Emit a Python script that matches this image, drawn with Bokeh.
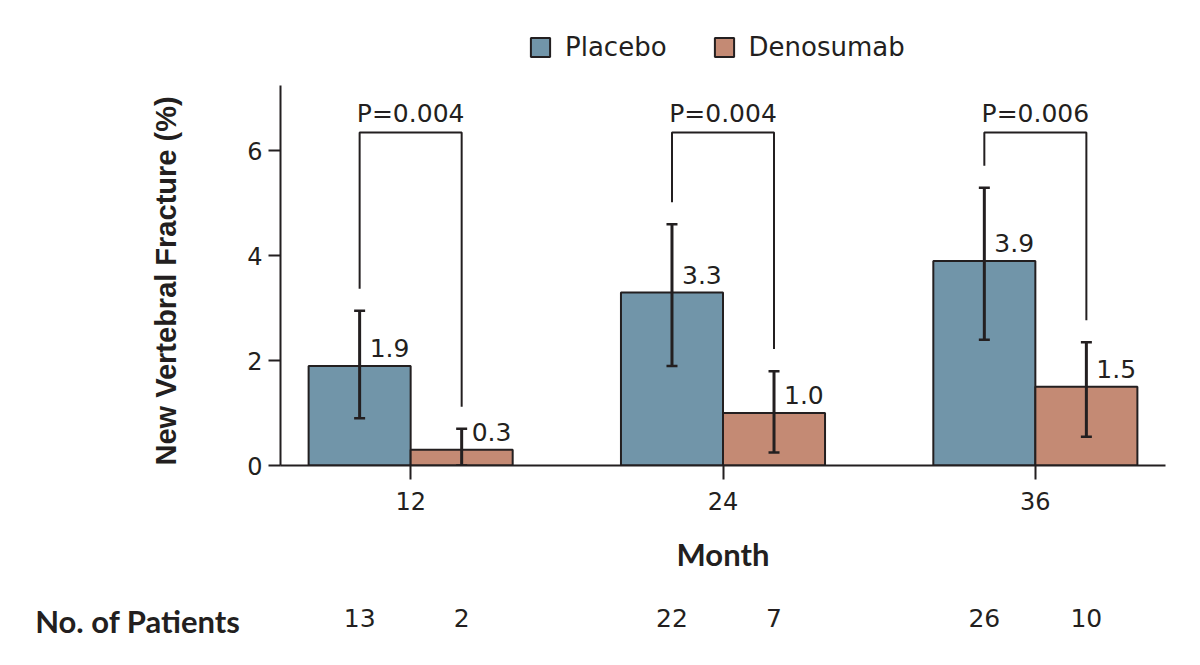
from bokeh.plotting import figure
from bokeh.layouts import column
from bokeh.models import Range1d, Legend, LegendItem, FixedTicker, Title
from bokeh.core.properties import value
from bokeh.embed import file_html
from bokeh.resources import INLINE

# ---- data -------------------------------------------------------------
months = [12, 24, 36]
placebo = [1.9, 3.3, 3.9]
denosumab = [0.3, 1.0, 1.5]
placebo_lo = [0.9, 1.9, 2.4]
placebo_hi = [2.95, 4.6, 5.3]
denosumab_lo = [0.0, 0.25, 0.55]
denosumab_hi = [0.7, 1.8, 2.35]
p_values = ["P=0.004", "P=0.004", "P=0.006"]
patients_placebo = [13, 22, 26]
patients_denosumab = [2, 7, 10]
y_ticks = [0, 2, 4, 6]

# ---- style ------------------------------------------------------------
INK = "#231f20"
BLUE = "#7195a9"
TAN = "#c48a74"
REG = "DejaVu Sans"
BOLD = "Lato"
BAR_W = 3.92          # bar width in months
BRACKET_Y = 6.35      # height of the significance brackets
LEG_GAP = 0.42        # gap between error-bar top and bracket leg
Y_AXIS_TOP = 7.25     # where the value axis stops
Y_VIEW_TOP = 8.87     # headroom above the axis holds the legend

W = 1200
MAIN_H, STRIP_H = 575, 90
x_range = Range1d(7, 41)

# ---- main chart -------------------------------------------------------
p = figure(width=W, height=MAIN_H, output_backend="svg", toolbar_location=None,
           x_range=x_range, y_range=Range1d(0, Y_VIEW_TOP),
           min_border_left=280, min_border_right=35,
           min_border_top=0, min_border_bottom=108)
p.outline_line_color = None
p.grid.visible = False

x_pla = [m - BAR_W / 2 for m in months]
x_den = [m + BAR_W / 2 for m in months]

r_pla = p.vbar(x=x_pla, top=placebo, bottom=0, width=BAR_W,
               fill_color=BLUE, line_color=INK, line_width=2)
r_den = p.vbar(x=x_den, top=denosumab, bottom=0, width=BAR_W,
               fill_color=TAN, line_color=INK, line_width=2)

# error bars with flat caps
for xs, lo, hi in ((x_pla, placebo_lo, placebo_hi), (x_den, denosumab_lo, denosumab_hi)):
    p.segment(x0=xs, y0=lo, x1=xs, y1=hi, line_color=INK, line_width=3)
    p.scatter(x=xs + xs, y=lo + hi, marker="dash", size=11,
              line_color=INK, line_width=2.5)

# value labels beside each error bar
p.text(x=x_pla + x_den, y=placebo + denosumab,
       text=[f"{v:.1f}" for v in placebo + denosumab],
       x_offset=10, y_offset=-9, text_align="left", text_baseline="bottom",
       text_font=value(REG), text_font_size="25px", text_color=INK)

# significance brackets
bx, by = [], []
for xp, xd, hp, hd in zip(x_pla, x_den, placebo_hi, denosumab_hi):
    bx.append([xp, xp, xd, xd])
    by.append([hp + LEG_GAP, BRACKET_Y, BRACKET_Y, hd + LEG_GAP])
p.multi_line(xs=bx, ys=by, line_color=INK, line_width=2)
p.text(x=months, y=[BRACKET_Y] * 3, text=p_values, y_offset=-5,
       text_align="center", text_baseline="bottom",
       text_font=value(REG), text_font_size="25px", text_color=INK)

# axes
ya = p.yaxis[0]
ya.bounds = (0, Y_AXIS_TOP)
ya.ticker = FixedTicker(ticks=y_ticks)
xa = p.xaxis[0]
xa.ticker = FixedTicker(ticks=months)
xa.axis_label = "Month"
xa.axis_label_text_font = BOLD
xa.axis_label_text_font_style = "bold"
xa.axis_label_text_font_size = "31px"
xa.axis_label_text_color = INK
xa.axis_label_standoff = 22
for ax in (xa, ya):
    ax.axis_line_color = INK
    ax.axis_line_width = 2
    ax.major_tick_line_color = INK
    ax.major_tick_line_width = 2
    ax.major_tick_in = 0
    ax.minor_tick_line_color = None
    ax.major_label_text_font = REG
    ax.major_label_text_font_size = "24px"
    ax.major_label_text_color = INK
ya.major_tick_out = 12
ya.major_label_standoff = 6
xa.major_tick_out = 14
xa.major_label_standoff = 12

# value-axis title, anchored at the axis origin and reading upward
p.add_layout(Title(text="New Vertebral Fracture (%)", align="left", offset=0,
                   standoff=126, text_font="Liberation Sans",
                   text_font_style="bold", text_font_size="29px",
                   text_color=INK), "left")

legend = Legend(items=[LegendItem(label="Placebo", renderers=[r_pla]),
                       LegendItem(label="Denosumab", renderers=[r_den])],
                orientation="horizontal", location=(248, 403),
                glyph_width=24, glyph_height=24, label_height=24,
                label_standoff=13, spacing=45, padding=0, margin=0,
                border_line_color=None, background_fill_alpha=0,
                label_text_font=REG, label_text_font_size="26px",
                label_text_color=INK)
p.add_layout(legend)

# ---- number of patients row -------------------------------------------
s = figure(width=W, height=STRIP_H, output_backend="svg", toolbar_location=None,
           x_range=x_range, y_range=Range1d(0, 1),
           min_border_left=280, min_border_right=35,
           min_border_top=0, min_border_bottom=0)
s.outline_line_color = None
s.grid.visible = False
s.xaxis.visible = False
sy = s.yaxis[0]
sy.ticker = FixedTicker(ticks=[])
sy.axis_line_color = None
sy.major_tick_line_color = None
sy.minor_tick_line_color = None
sy.axis_label = "No. of Patients"
sy.axis_label_orientation = "horizontal"
sy.axis_label_standoff = 40
sy.axis_label_text_font = BOLD
sy.axis_label_text_font_style = "bold"
sy.axis_label_text_font_size = "31px"
sy.axis_label_text_color = INK
s.text(x=x_pla + x_den, y=[0.53] * 6,
       text=[str(n) for n in patients_placebo + patients_denosumab],
       text_align="center", text_baseline="middle",
       text_font=value(REG), text_font_size="25px", text_color=INK)

layout = column(p, s, spacing=0)
open("out.html", "w").write(file_html(layout, INLINE))
